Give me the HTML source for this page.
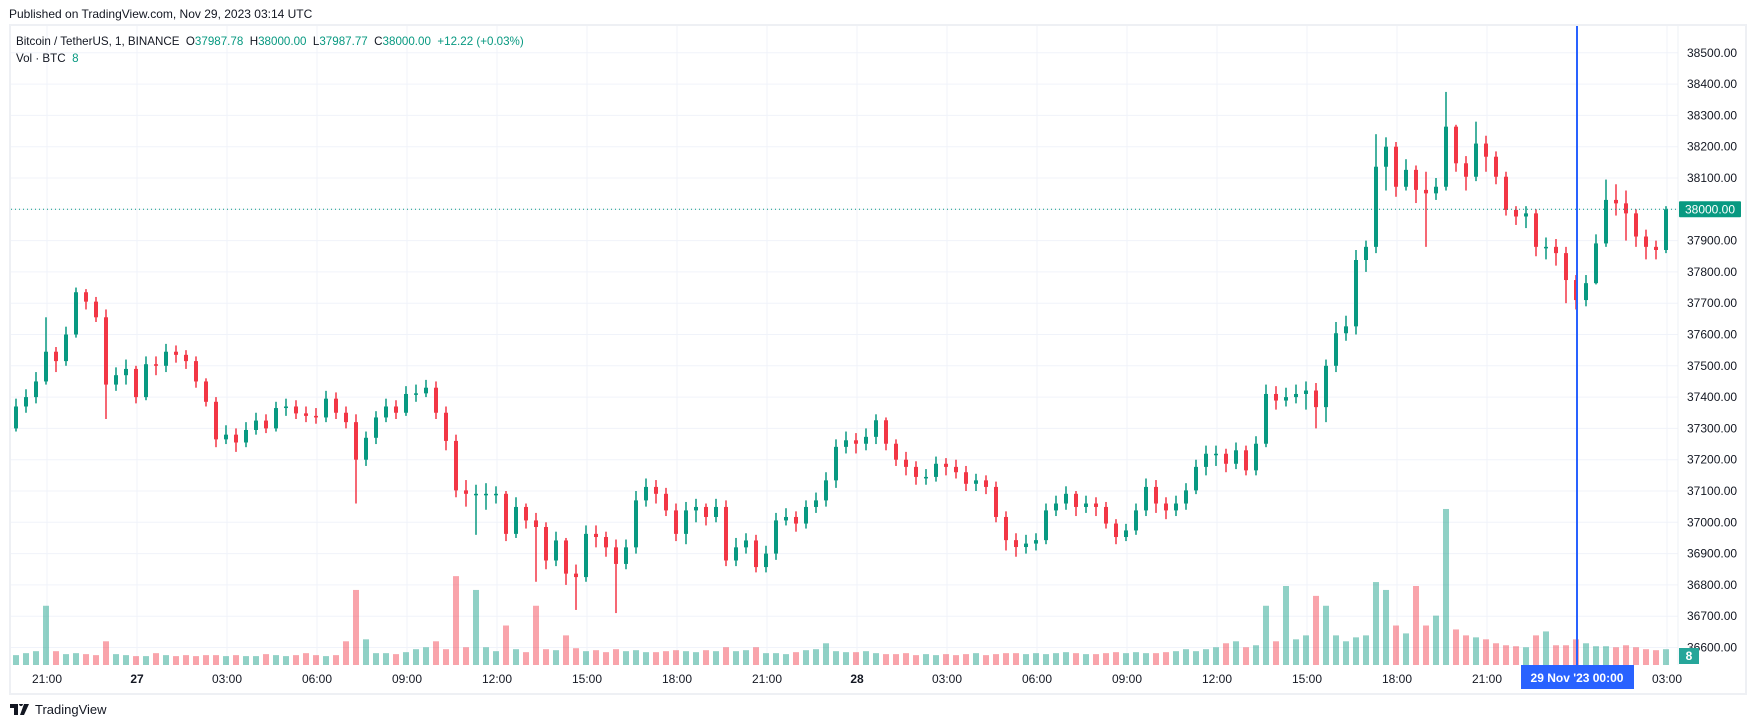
<!DOCTYPE html>
<html><head><meta charset="utf-8">
<style>
html,body{margin:0;padding:0;background:#fff;width:1755px;height:728px;overflow:hidden;font-family:"Liberation Sans",sans-serif;color:#131722}
#pub{position:absolute;left:9px;top:7px;font-size:12px;}
#frame{position:absolute;left:9px;top:24px;width:1734px;height:667px;border:2px solid #eef0f4}
#legend{position:absolute;left:16px;top:33px;font-size:11.6px;line-height:17px}
.g{color:#089981}
#tv{position:absolute;left:10px;top:702px;font-size:13px;color:#131722;display:flex;align-items:center;gap:5px}
svg{position:absolute;left:0;top:0}
</style></head><body>
<div id="pub">Published on TradingView.com, Nov 29, 2023 03:14 UTC</div>
<div id="frame"></div>
<svg id="chart" width="1755" height="728"></svg>
<div id="legend">
<div>Bitcoin / TetherUS, 1, BINANCE&nbsp;&nbsp;O<span class="g">37987.78</span>&nbsp;&nbsp;H<span class="g">38000.00</span>&nbsp;&nbsp;L<span class="g">37987.77</span>&nbsp;&nbsp;C<span class="g">38000.00</span>&nbsp;&nbsp;<span class="g">+12.22 (+0.03%)</span></div>
<div>Vol · BTC&nbsp;&nbsp;<span class="g">8</span></div>
</div>
<div id="tv"><svg style="position:static" width="20" height="11" viewBox="0 0 20 11"><path d="M0 0h8v11H4V4H0z M9 0a2 2 0 1 1 0 .1z M14 0h5l-5 11h-4z" fill="#131722"/></svg><span>TradingView</span></div>
<script>
const closes=[37370,37400,37450,37545,37515,37600,37735,37705,37655,37440,
37470,37490,37400,37505,37500,37545,37535,37515,37450,37385,
37265,37280,37255,37295,37325,37300,37365,37370,37348,37340,
37335,37395,37350,37320,37200,37270,37335,37370,37350,37410,
37412,37430,37350,37260,
37102,37091,37091,37091,37091,36963,37049,37006,36985,36878,
36942,36836,36825,36963,36953,36920,36867,36920,37070,37113,
37091,37038,36963,37038,37049,37017,37049,36878,36920,36942,
36857,36900,37006,37017,36996,37049,37070,37134,37241,37262,
37251,37273,37326,37251,
37200,37177,37145,37145,37187,37177,37160,37123,37134,37113,
37017,36943,36921,36932,36943,37038,37060,37091,37049,37060,
37049,36996,36953,36974,37038,37113,37060,37038,37060,37102,
37177,37219,37219,37187,37230,37166,37251,37410,37389,37400,
37410,37421,37368,
37500,37604,37626,37838,37880,38136,38200,38072,38126,38062,
38051,38072,38264,38147,38104,38210,38168,38104,37998,37977,
37987,37880,37880,37860,37774,37710,37764,37891,38030,38019,
37987,37913,37880,37870,38000];
const highs=[37395,37425,37480,37655,37560,37625,37750,37745,37720,37680,
37495,37520,37500,37530,37530,37570,37565,37550,37530,37460,
37400,37310,37300,37320,37350,37345,37385,37395,37390,37370,
37365,37420,37415,37370,37345,37290,37355,37395,37390,37435,
37440,37455,37450,37370,
37280,37135,37120,37125,37115,37100,37080,37060,37030,37000,
36970,36950,36865,36990,36990,36970,36945,36945,37100,37140,
37135,37110,37060,37065,37075,37060,37075,37070,36950,36965,
36960,36925,37030,37045,37035,37070,37095,37160,37265,37290,
37285,37300,37345,37335,
37265,37225,37195,37170,37210,37205,37200,37180,37155,37150,
37130,37035,36965,36960,36965,37060,37085,37115,37100,37085,
37080,37065,37010,36995,37060,37140,37135,37080,37085,37125,
37200,37245,37245,37235,37255,37245,37275,37440,37435,37430,
37440,37450,37445,
37520,37640,37660,37870,37900,38240,38230,38215,38160,38140,
38120,38100,38375,38270,38170,38280,38235,38185,38120,38010,
38010,38000,37910,37905,37880,37790,37790,37920,38095,38080,
38060,38000,37935,37900,38010];
const lows=[37290,37350,37380,37440,37480,37500,37590,37680,37640,37330,
37420,37440,37380,37390,37470,37480,37510,37490,37430,37370,
37240,37250,37225,37240,37280,37285,37290,37340,37330,37320,
37315,37320,37330,37300,37060,37180,37250,37320,37330,37340,
37385,37400,37330,37230,
37080,37050,36960,37040,37060,36940,36950,36980,36810,36850,
36860,36800,36720,36810,36920,36890,36710,36850,36900,37050,
37060,37020,36940,36930,37000,36990,37000,36860,36860,36900,
36840,36840,36880,36990,36970,36980,37030,37050,37110,37220,
37220,37230,37250,37230,
37180,37150,37120,37120,37130,37150,37140,37100,37100,37090,
37000,36910,36890,36900,36910,36930,37020,37040,37020,37030,
37020,36980,36930,36940,36960,37020,37030,37010,37020,37040,
37090,37150,37180,37160,37170,37150,37150,37240,37360,37370,
37380,37360,37300,
37320,37480,37580,37600,37800,37860,38060,38040,38060,38020,
37880,38030,38060,38120,38060,38090,38120,38080,37980,37950,
37940,37850,37840,37820,37700,37680,37690,37760,37880,37980,
37900,37880,37840,37840,37860];
const volumes=[50,60,70,300,70,55,60,55,50,120,
55,50,45,45,60,50,45,50,45,50,
50,45,50,45,45,55,50,45,50,60,
50,45,50,120,380,130,60,60,55,65,
80,90,120,80,
450,90,380,90,70,200,80,65,300,80,
75,150,85,70,75,65,80,70,75,65,
65,70,75,70,65,75,70,90,70,75,
90,60,60,55,65,75,80,110,70,65,
65,70,60,55,
55,60,50,55,50,55,50,55,60,50,
55,60,60,55,60,55,60,65,60,55,
55,60,65,60,65,60,60,65,70,80,
70,80,90,110,120,90,100,300,120,400,
130,150,350,
300,150,120,140,150,420,380,200,160,400,
200,250,790,180,150,140,130,110,100,95,
90,150,170,100,100,130,110,95,95,90,
100,90,80,75,80];
const priceTicks=[38500,38400,38300,38200,38100,38000,37900,37800,37700,37600,37500,37400,37300,37200,37100,37000,36900,36800,36700,36600];
const timeTicks=["21:00","27","03:00","06:00","09:00","12:00","15:00","18:00","21:00","28","03:00","06:00","09:00","12:00","15:00","18:00","21:00","00:00","03:00"];
const lastPrice=38000, lastVolume=8;

const NS="http://www.w3.org/2000/svg";
const svg=document.getElementById('chart');
const X0=11, XR=1678, YT=26, YB=665;
function y(p){return 209.3+(38000-p)*0.313;}
function xCandle(i){return 16+10*i;}
function xTick(i){return 47+90*i;}
function volH(v){return v*158/800;}
function mk(tag,attrs){const e=document.createElementNS(NS,tag);for(const k in attrs)e.setAttribute(k,attrs[k]);svg.appendChild(e);return e;}

priceTicks.forEach(p=>{
  const l=mk('line',{x1:X0,x2:XR,y1:y(p),y2:y(p),stroke:'#f0f3fa','stroke-width':1});
  
  
  const t=mk('text',{x:1687,y:y(p)+4,'font-size':12,fill:'#131722','font-family':'Liberation Sans, sans-serif'});
  t.textContent=p.toFixed(2);
  
  
});
timeTicks.forEach((lab,i)=>{
  const l=mk('line',{x1:xTick(i),x2:xTick(i),y1:YT,y2:YB,stroke:'#f0f3fa','stroke-width':1});
  
  
  const t=mk('text',{x:xTick(i),y:683,'font-size':12,fill:'#131722','text-anchor':'middle','font-family':'Liberation Sans, sans-serif','font-weight':(lab.length<3?'bold':'normal')});
  t.textContent=lab;
  
  
});
let s1=mk('line',{x1:XR,x2:XR,y1:YT,y2:YB,stroke:'#eef0f4','stroke-width':1});



volumes.forEach((v,i)=>{
  const o=i?closes[i-1]:37300, up=closes[i]>=o;
  const r=mk('rect',{x:xCandle(i)-3,y:YB-volH(v),width:6,height:volH(v),fill:up?'rgba(8,153,129,0.45)':'rgba(242,54,69,0.45)'});
  
  
});
closes.forEach((c,i)=>{
  const o=i?closes[i-1]:37300, up=c>=o, col=up?'#089981':'#F23645';
  const w=mk('line',{x1:xCandle(i),x2:xCandle(i),y1:y(highs[i]),y2:y(lows[i]),stroke:col,'stroke-width':1.5});
  
  
  const top=y(Math.max(o,c)), h=Math.max(1.5,Math.abs(y(o)-y(c)));
  const b=mk('rect',{x:xCandle(i)-2,y:top,width:4,height:h,fill:col});
  
  
});
const lp=mk('line',{x1:X0,x2:XR,y1:y(lastPrice),y2:y(lastPrice),stroke:'#089981','stroke-width':1,'stroke-dasharray':'1,3'});


const lb=mk('rect',{x:1679,y:y(lastPrice)-8,width:62,height:16,fill:'#089981',rx:1});


const lt=mk('text',{x:1710,y:y(lastPrice)+4,'font-size':12,fill:'#fff','text-anchor':'middle','font-family':'Liberation Sans, sans-serif'});
lt.textContent=lastPrice.toFixed(2);


const vb=mk('rect',{x:1679,y:648,width:20,height:16,fill:'#26a69a'});


const vt=mk('text',{x:1689,y:660,'font-size':12,fill:'#fff','text-anchor':'middle','font-weight':'bold','font-family':'Liberation Sans, sans-serif'});
vt.textContent=String(lastVolume);


const ch=mk('line',{x1:1577,x2:1577,y1:YT,y2:YB,stroke:'#2962ff','stroke-width':2});


const cb=mk('rect',{x:1521,y:665,width:113,height:24,fill:'#2962ff'});


const ct=mk('text',{x:1577,y:682,'font-size':12,fill:'#fff','text-anchor':'middle','font-weight':'bold','font-family':'Liberation Sans, sans-serif','xml:space':'preserve'});
ct.textContent="29 Nov '23   00:00";


</script>
</body></html>
